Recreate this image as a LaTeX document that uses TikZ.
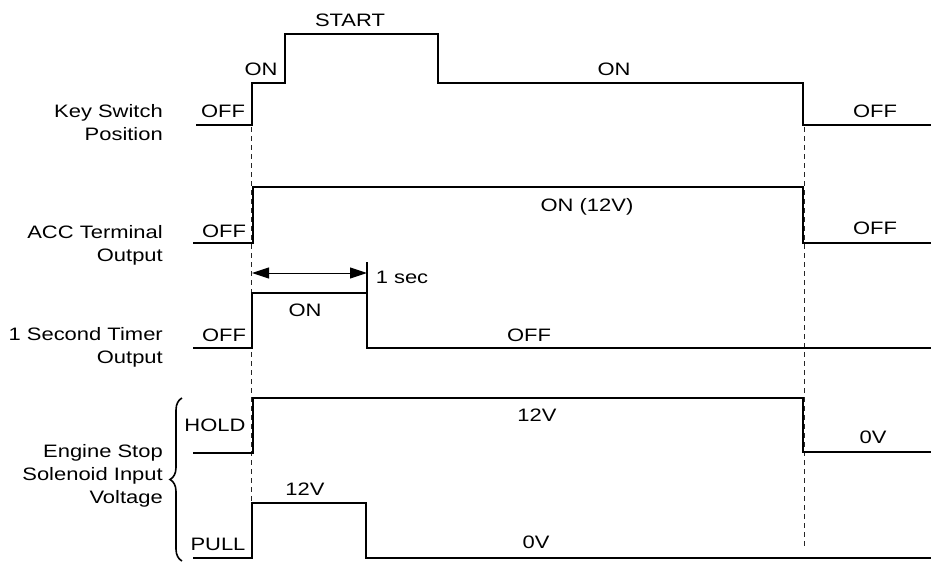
\documentclass[tikz,border=0pt]{standalone}
\usepackage{fontspec}
\setmainfont[FakeStretch=1.22]{Liberation Sans}
\usetikzlibrary{arrows.meta,decorations.pathreplacing}
\begin{document}
\begin{tikzpicture}[x=1pt,y=-1pt,
  sig/.style={line width=2.7pt, line join=miter},
  guide/.style={line width=0.9pt, dash pattern=on 5pt off 4pt, black!85},
  lbl/.style={font=\fontsize{18}{22}\selectfont, inner sep=0pt, anchor=base},
  side/.style={font=\fontsize{18}{22}\selectfont, inner sep=0pt, anchor=base east}]
\useasboundingbox[fill=white] (0,0) rectangle (931,562);

% guide lines
\draw[guide] (251,127) -- (251,503);
\draw[guide] (804,127) -- (804,548);

% signals
\draw[sig] (196,125) -- (252,125) -- (252,83) -- (285,83) -- (285,34) -- (438,34) -- (438,83) -- (803,83) -- (803,125) -- (931,125);
\draw[sig] (193,243) -- (253,243) -- (253,187) -- (803,187) -- (803,243) -- (931,243);
\draw[sig] (193,348) -- (252,348) -- (252,293) -- (367,293) -- (367,348) -- (931,348);
\draw[sig] (193,453) -- (253,453) -- (253,398) -- (803,398) -- (803,452) -- (931,452);
\draw[sig] (193,558) -- (252,558) -- (252,503) -- (366,503) -- (366,558) -- (931,558);

% 1 sec arrow
\coordinate (a1) at (252,273);
\coordinate (a2) at (367,273);
\draw[line width=1pt, {Triangle[length=17pt,width=11pt]}-{Triangle[length=17pt,width=11pt]}] (a1) -- (a2);
\draw[line width=1.4pt] (367,262) -- (367,293);

% brace
\draw[line width=1.6pt, decorate, decoration={brace, amplitude=12pt}] (182,561) -- (182,398);

% side labels
\node[side] (k1) at (163,117) {Key Switch};
\node[side] (k2) at (163,140) {Position};
\node[side] (c1) at (163,238) {ACC Terminal};
\node[side] (c2) at (163,261) {Output};
\node[side] (t1) at (163,340) {1 Second Timer};
\node[side] (t2) at (163,363) {Output};
\node[side] (e1) at (163,457) {Engine Stop};
\node[side] (e2) at (163,480) {Solenoid Input};
\node[side] (e3) at (163,503) {Voltage};

% value labels
\node[lbl] (ks) at (350,26) {START};
\node[lbl] (kon1) at (261,75) {ON};
\node[lbl] (koff1) at (223,117) {OFF};
\node[lbl] (kon2) at (614,75) {ON};
\node[lbl] (koff2) at (875,117) {OFF};
\node[lbl] (aoff1) at (224,237) {OFF};
\node[lbl] (aon) at (587,211) {ON (12V)};
\node[lbl] (aoff2) at (875,234) {OFF};
\node[lbl] (toff1) at (224,341) {OFF};
\node[lbl] (ton) at (305,316) {ON};
\node[lbl] (tsec) at (402,283) {1 sec};
\node[lbl] (toff2) at (529,341) {OFF};
\node[lbl] (hhold) at (215,431) {HOLD};
\node[lbl] (h12) at (537,421) {12V};
\node[lbl] (h0) at (873,443) {0V};
\node[lbl] (p12) at (305,495) {12V};
\node[lbl] (ppull) at (218,550) {PULL};
\node[lbl] (p0) at (536,548) {0V};
\end{tikzpicture}
\end{document}
